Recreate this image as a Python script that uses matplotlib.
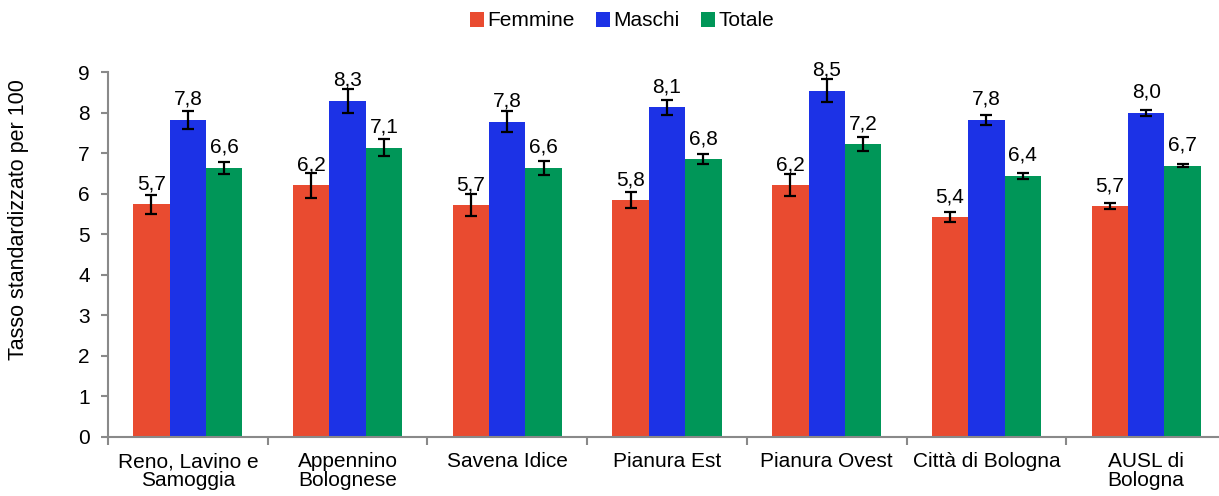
#!/usr/bin/env python3

import numpy as np
import matplotlib
matplotlib.use("Agg")
import matplotlib.pyplot as plt

plt.rcParams['font.family'] = ['Liberation Sans', 'DejaVu Sans']

# Data
categories = ["Reno, Lavino e\nSamoggia", "Appennino\nBolognese", "Savena Idice",
              "Pianura Est", "Pianura Ovest", "Città di Bologna", "AUSL di\nBologna"]
series = ["Femmine", "Maschi", "Totale"]
femmine = [5.74, 6.21, 5.72, 5.84, 6.21, 5.42, 5.69]
maschi = [7.82, 8.29, 7.77, 8.13, 8.54, 7.82, 7.99]
totale = [6.64, 7.13, 6.64, 6.85, 7.22, 6.44, 6.69]
err_femmine = [0.23, 0.31, 0.27, 0.19, 0.27, 0.13, 0.07]
err_maschi = [0.22, 0.30, 0.26, 0.19, 0.28, 0.13, 0.07]
err_totale = [0.15, 0.21, 0.17, 0.12, 0.18, 0.08, 0.04]
colors = ["#E94B30", "#1C32E6", "#009658"]

values = [femmine, maschi, totale]
errors = [err_femmine, err_maschi, err_totale]

fig = plt.figure(figsize=(12.19, 4.96), dpi=100)
ax = fig.add_axes([108 / 1219, 59 / 496, 1118 / 1219, 365 / 496])

x = np.arange(len(categories))
w = 0.228
handles = []
for i, (vals, errs, col, name) in enumerate(zip(values, errors, colors, series)):
    pos = x + (i - 1) * w
    b = ax.bar(pos, vals, w, color=col, label=name, zorder=2)
    handles.append(b)
    ax.errorbar(pos, vals, yerr=errs, fmt='none', ecolor='black',
                elinewidth=1.6, capsize=4.5, capthick=1.6, zorder=3)
    for px, v in zip(pos, vals):
        ax.annotate(f"{v:.1f}".replace('.', ','), (px, v), xytext=(0, 15),
                    textcoords='offset pixels', ha='center', va='baseline',
                    fontsize=15)

ax.set_xlim(-0.5, len(categories) - 0.5)
ax.set_ylim(0, 9)
ax.set_yticks(range(10))

ax.set_xticks(x)
ax.set_xticklabels(categories, fontsize=15, linespacing=1.0)
ax.set_xticks(np.arange(-0.5, len(categories), 1), minor=True)
ax.tick_params(axis='x', which='major', length=0, pad=11)
ax.tick_params(axis='x', which='minor', length=6, width=1.5, color='#898989')
ax.tick_params(axis='y', labelsize=15, length=5, width=1.5, color='#898989', pad=8)

for s in ['top', 'right']:
    ax.spines[s].set_visible(False)
for s in ['left', 'bottom']:
    ax.spines[s].set_color('#898989')
    ax.spines[s].set_linewidth(1.5)

ax.set_ylabel("Tasso standardizzato per 100", fontsize=15.5)
ax.yaxis.set_label_coords(-0.071, 0.597)

fig.legend(handles=handles, labels=series, loc='center', ncol=3,
           bbox_to_anchor=(622 / 1219, 1 - 21 / 496), frameon=False,
           fontsize=15, handlelength=0.7, handleheight=0.7,
           handletextpad=0.15, columnspacing=1.0, borderpad=0)

fig.savefig("out.png", dpi=100)
